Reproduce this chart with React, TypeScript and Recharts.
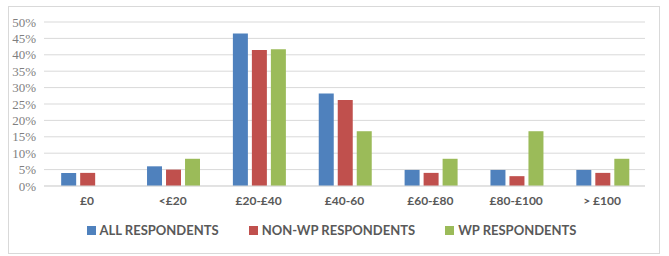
import { Bar, BarChart, CartesianGrid, Legend, XAxis, YAxis } from 'recharts';

const categories = ['£0', '<£20', '£20-£40', '£40-60', '£60-£80', '£80-£100', '> £100'];
const allRespondents = [4, 6, 46.5, 28.2, 4.9, 4.9, 4.9];
const nonWpRespondents = [4, 5, 41.5, 26.2, 4, 3, 4];
const wpRespondents = [0, 8.3, 41.7, 16.7, 8.3, 16.7, 8.3];
const yTicks = [0, 5, 10, 15, 20, 25, 30, 35, 40, 45, 50];

const seriesNames = ['ALL RESPONDENTS', 'NON-WP RESPONDENTS', 'WP RESPONDENTS'];
const seriesColors = ['#4f81bd', '#c0504d', '#9bbb59'];

const chartData = categories.map((cat, i) => ({
    name: cat,
    all: allRespondents[i],
    nonWp: nonWpRespondents[i],
    wp: wpRespondents[i],
}));

function LegendBox() {
    return (
        <div style={{ display: 'flex', justifyContent: 'center', gap: 30, marginLeft: 10, fontFamily: 'Lato, "Open Sans", sans-serif', fontWeight: 700, fontSize: 13, color: '#595959' }}>
            {seriesNames.map((n, i) => (
                <div key={n} style={{ display: 'flex', alignItems: 'center' }}>
                    <span style={{ display: 'inline-block', width: 9, height: 9, background: seriesColors[i], marginRight: 4 }} />
                    {n}
                </div>
            ))}
        </div>
    );
}

export default function App() {
    return (
        <div style={{ position: 'absolute', left: 0, top: 0, width: 669, height: 256, background: '#fff' }}>
            <div style={{ position: 'absolute', left: 8, top: 6, width: 650, height: 246, border: '1px solid #d9d9d9' }} />
            <BarChart
                width={669}
                height={256}
                data={chartData}
                margin={{ top: 22, right: 24, bottom: 18, left: 8 }}
                barCategoryGap="20%"
                barGap={4}
            >
                <CartesianGrid vertical={false} stroke="#d9d9d9" />
                <XAxis
                    dataKey="name"
                    tickLine={false}
                    axisLine={{ stroke: '#d9d9d9' }}
                    tick={{ fill: '#595959', fontSize: 12, fontWeight: 700, fontFamily: 'Lato, sans-serif' }}
                    tickMargin={4}
                    height={36}
                />
                <YAxis
                    width={36}
                    domain={[0, 50]}
                    ticks={yTicks}
                    interval={0}
                    tickLine={false}
                    axisLine={false}
                    tickFormatter={(v) => `${v}%`}
                    tick={{ fill: '#7f7f7f', fontSize: 13, fontFamily: '"Liberation Serif", serif' }}
                    tickMargin={2}
                />
                <Legend verticalAlign="bottom" content={<LegendBox />} />
                <Bar dataKey="all" name={seriesNames[0]} fill={seriesColors[0]} isAnimationActive={false} />
                <Bar dataKey="nonWp" name={seriesNames[1]} fill={seriesColors[1]} isAnimationActive={false} />
                <Bar dataKey="wp" name={seriesNames[2]} fill={seriesColors[2]} isAnimationActive={false} />
            </BarChart>
        </div>
    );
}
